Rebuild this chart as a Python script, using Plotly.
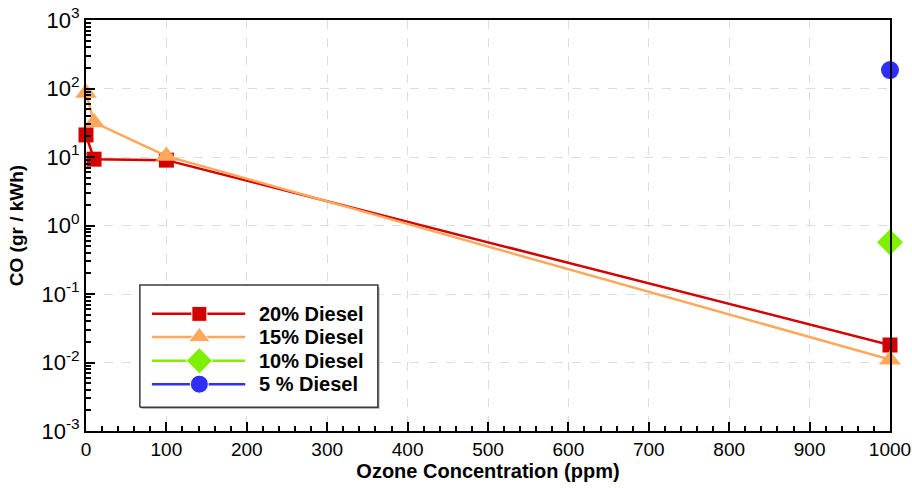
import plotly.graph_objects as go

# Ozone concentration (ppm) and CO emissions (gr/kWh) per diesel share
ozone_20 = [0, 10, 100, 1000]
co_20 = [21, 9.3, 9.0, 0.018]

ozone_15 = [0, 10, 100, 1000]
co_15 = [86, 32, 10.3, 0.011]

ozone_10 = [1000]
co_10 = [0.57]

ozone_5 = [1000]
co_5 = [186]

series_names = ["20% Diesel", "15% Diesel", "10% Diesel", "5 % Diesel"]
series_colors = ["#D40000", "#FFA75A", "#7FEF00", "#2E2EFF"]
series_symbols = ["square", "triangle-up", "diamond", "circle"]
marker_sizes = [15, 19, 20, 18]

x_ticks = list(range(0, 1001, 100))
y_exponents = [-3, -2, -1, 0, 1, 2, 3]

fig = go.Figure()
for xs, ys, name, color, sym, ms in zip(
    [ozone_20, ozone_15, ozone_10, ozone_5],
    [co_20, co_15, co_10, co_5],
    series_names, series_colors, series_symbols, marker_sizes,
):
    fig.add_trace(go.Scatter(
        x=xs, y=ys, name=name, mode="lines+markers",
        line=dict(color=color, width=2.5),
        marker=dict(symbol=sym, size=ms, color=color),
        cliponaxis=False, showlegend=False,
    ))

# Boxed key in the lower-left of the plot, drawn on an overlay axis pair
# spanning the plot area with a 0..1 range, so it sits above grid and data.
box_x0, box_x1, box_y0, box_y1 = 0.067, 0.363, 0.058, 0.355
row_y = [0.285, 0.229, 0.171, 0.114]
line_x0, line_mid, line_x1, text_x = 0.082, 0.141, 0.198, 0.213


def rect(x0, x1, y0, y1):
    return [x0, x1, x1, x0, x0], [y0, y0, y1, y1, y0]


sx, sy = rect(box_x0 + 0.002, box_x1 + 0.002, box_y0 - 0.004, box_y1 - 0.004)
fig.add_trace(go.Scatter(x=sx, y=sy, xaxis="x2", yaxis="y2", mode="lines",
                         fill="toself", fillcolor="#A0A0A0", line=dict(width=0),
                         showlegend=False, hoverinfo="skip"))
bx, by = rect(box_x0, box_x1, box_y0, box_y1)
fig.add_trace(go.Scatter(x=bx, y=by, xaxis="x2", yaxis="y2", mode="lines",
                         fill="toself", fillcolor="white", line=dict(color="#3A3A3A", width=1.5),
                         showlegend=False, hoverinfo="skip"))
for ry, name, color, sym, ms in zip(row_y, series_names, series_colors, series_symbols, marker_sizes):
    fig.add_trace(go.Scatter(
        x=[line_x0, line_mid, line_x1], y=[ry, ry, ry], xaxis="x2", yaxis="y2",
        mode="lines+markers",
        line=dict(color=color, width=2.5),
        marker=dict(symbol=sym, size=[0, ms, 0], color=color, opacity=1),
        showlegend=False, hoverinfo="skip", cliponaxis=False,
    ))
    fig.add_annotation(xref="x2", yref="y2", x=text_x, y=ry, text="<b>%s</b>" % name,
                       showarrow=False, xanchor="left", yanchor="middle",
                       font=dict(family="Liberation Sans, Arial", size=20, color="#000"))

tick_font = dict(family="Liberation Sans, Arial", size=19, color="#000")

fig.update_layout(
    width=912, height=488,
    margin=dict(l=86, r=22, t=20, b=57),
    paper_bgcolor="white", plot_bgcolor="white",
    showlegend=False,
    xaxis=dict(
        range=[0, 1000], tickvals=x_ticks, automargin=False,
        ticks="inside", ticklen=9, tickwidth=1.5, tickcolor="#000",
        showline=True, linecolor="#000", linewidth=2, mirror=True,
        showgrid=True, gridcolor="#DCDCDC", griddash="dash", gridwidth=1,
        zeroline=False,
        tickfont=tick_font,
        minor=dict(dtick=20, ticks="inside", ticklen=5, tickcolor="#000", showgrid=False),
        title=dict(text="<b>Ozone Concentration (ppm)</b>",
                   font=dict(family="Liberation Sans, Arial", size=20, color="#000"), standoff=4),
    ),
    yaxis=dict(
        type="log", range=[-3, 3], automargin=False,
        tickvals=[10 ** e for e in y_exponents],
        ticktext=["10<sup>%d</sup>" % e for e in y_exponents],
        ticks="inside", ticklen=9, tickwidth=1.5, tickcolor="#000",
        showline=True, linecolor="#000", linewidth=2, mirror=True,
        showgrid=True, gridcolor="#DCDCDC", griddash="dash", gridwidth=1,
        zeroline=False,
        tickfont=dict(family="Liberation Sans, Arial", size=22, color="#000"),
        minor=dict(dtick="D1", ticks="inside", ticklen=5, tickcolor="#000", showgrid=False),
        title=dict(text="<b>CO (gr / kWh)</b>",
                   font=dict(family="Liberation Sans, Arial", size=19, color="#000"), standoff=13),
    ),
    xaxis2=dict(range=[0, 1], overlaying="x", visible=False, fixedrange=True),
    yaxis2=dict(range=[0, 1], overlaying="y", visible=False, fixedrange=True),
)

fig.write_html("out.html")
